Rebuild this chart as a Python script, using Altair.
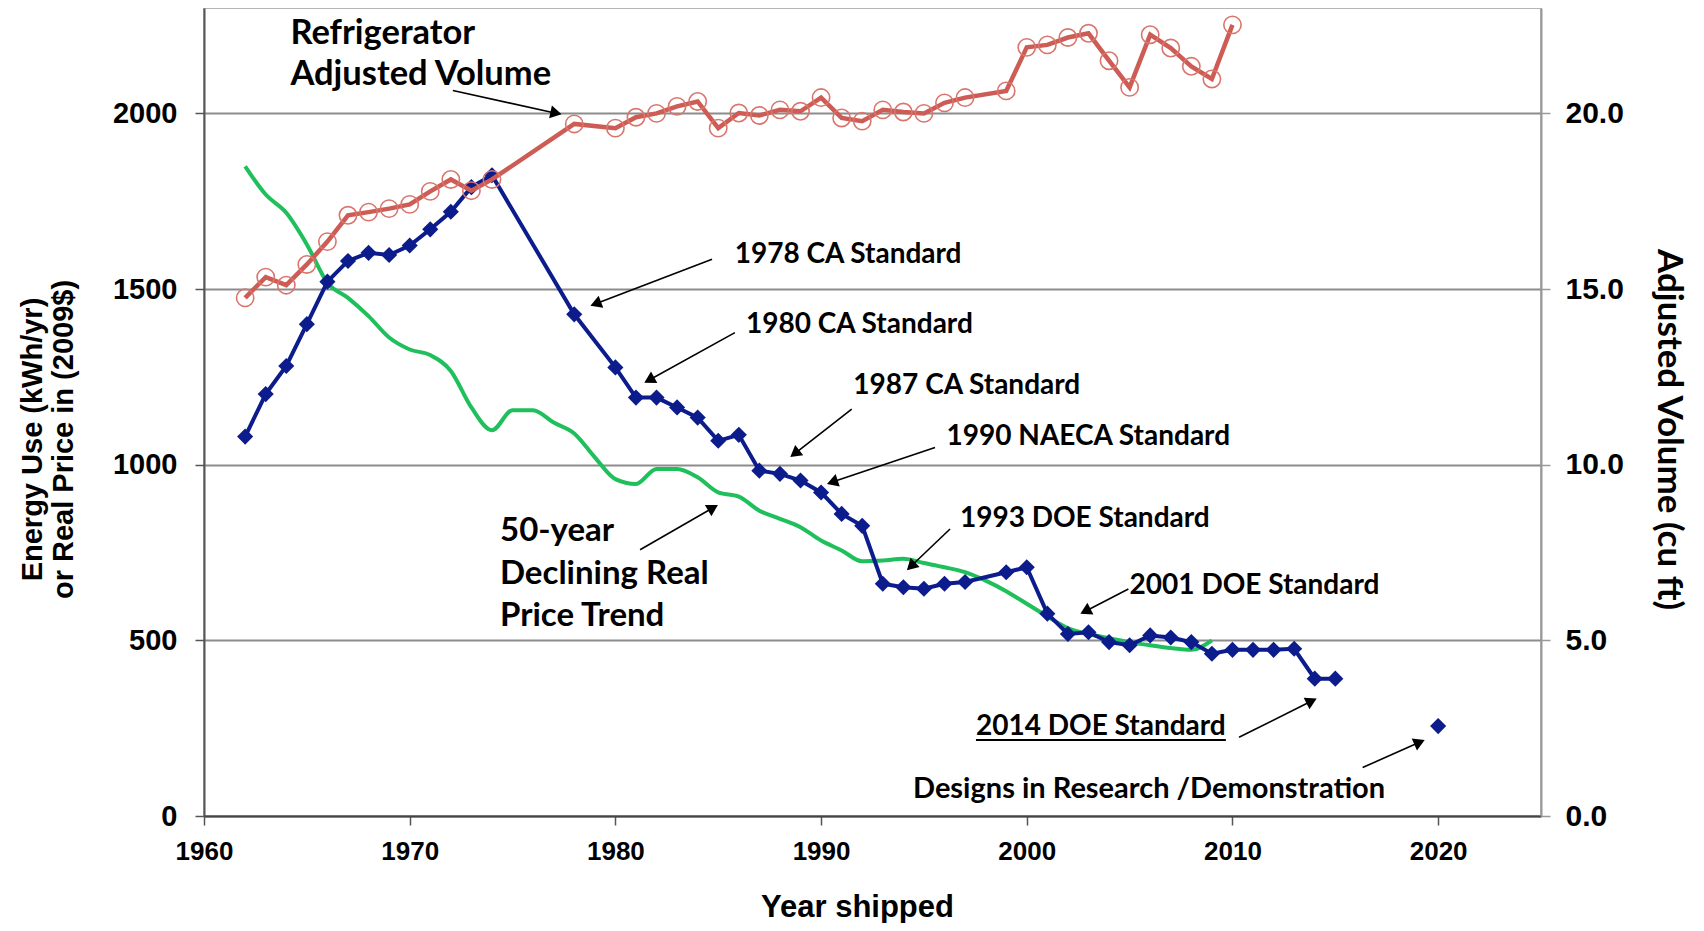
import altair as alt
import pandas as pd
import numpy as np

# ---------------- data ----------------
energy_years = [1962, 1963, 1964, 1965, 1966, 1967, 1968, 1969, 1970, 1971, 1972, 1973, 1974,
                1978, 1980, 1981, 1982, 1983, 1984, 1985, 1986, 1987, 1988, 1989, 1990, 1991,
                1992, 1993, 1994, 1995, 1996, 1997, 1999, 2000, 2001, 2002, 2003, 2004, 2005,
                2006, 2007, 2008, 2009, 2010, 2011, 2012, 2013, 2014, 2015]
energy_kwh = [1080, 1201, 1281, 1400, 1521, 1580, 1603, 1597, 1624, 1670, 1720, 1790, 1824,
              1428, 1277, 1191, 1191, 1163, 1134, 1068, 1085, 983, 974, 955, 921, 860,
              826, 661, 651, 647, 661, 666, 694, 708, 576, 518, 523, 495, 486,
              514, 508, 495, 462, 473, 473, 473, 476, 391, 391]

demo_years = [2020]
demo_kwh = [256]

price_years = list(range(1962, 2010))
price_real = [1849, 1769, 1717, 1627, 1518, 1475, 1423, 1362, 1328, 1312, 1267, 1163, 1098,
              1155, 1155, 1120, 1089, 1021, 959, 945, 988, 988, 964, 921, 909, 869, 846,
              822, 784, 756, 725, 727, 732, 720, 708, 694, 670, 640, 604, 568, 535, 518,
              506, 495, 486, 478, 473, 500]

volume_years = [1962, 1963, 1964, 1965, 1966, 1967, 1968, 1969, 1970, 1971, 1972, 1973, 1974,
                1978, 1980, 1981, 1982, 1983, 1984, 1985, 1986, 1987, 1988, 1989, 1990, 1991,
                1992, 1993, 1994, 1995, 1996, 1997, 1999, 2000, 2001, 2002, 2003, 2004, 2005,
                2006, 2007, 2008, 2009, 2010]
volume_cuft = [14.75, 15.34, 15.11, 15.70, 16.35, 17.10, 17.19, 17.29, 17.41, 17.78, 18.12, 17.80, 18.12,
               19.70, 19.58, 19.89, 20.00, 20.20, 20.34, 19.58, 20.01, 19.94, 20.10, 20.06, 20.45, 19.87,
               19.78, 20.10, 20.04, 20.00, 20.30, 20.45, 20.64, 21.88, 21.95, 22.16, 22.28, 21.50, 20.74,
               22.24, 21.86, 21.34, 20.98, 22.52]

x_ticks = [1960, 1970, 1980, 1990, 2000, 2010, 2020]
left_ticks = [0, 500, 1000, 1500, 2000]
right_ticks = [0, 5, 10, 15, 20]

note_text = ["Refrigerator", "Adjusted Volume", "1978 CA Standard", "1980 CA Standard",
             "1987 CA Standard", "1990 NAECA Standard", "1993 DOE Standard", "2001 DOE Standard",
             "2014 DOE Standard", "Designs in Research /Demonstration",
             "50-year", "Declining Real", "Price Trend"]
note_year = [1964.2, 1964.2, 1985.8, 1986.35, 1991.57, 1996.1, 1996.75, 2005.0,
             1997.53, 1994.47, 1974.39, 1974.39, 1974.39]
note_value = [2226, 2110, 1597, 1398, 1224, 1078, 846, 656, 253, 77, 810, 690, 568]
note_size = [34.5, 34.5, 28, 28, 28, 28, 28, 28, 28, 29, 33, 33, 33]

arrow_from_year = [1972.1, 1984.70, 1985.81, 1991.49, 1995.54, 1996.27, 2004.94, 1981.2, 2010.32, 2016.33]
arrow_from_value = [2065, 1585, 1376, 1158, 1049, 817, 646, 758, 224, 138]
arrow_to_year = [1977.4, 1978.77, 1981.39, 1988.49, 1990.27, 1994.16, 2002.59, 1985.0, 2014.11, 2019.36]
arrow_to_value = [1997, 1452, 1233, 1021, 945, 699, 575, 886, 335, 217]

underline_year = [1997.53]
underline_year2 = [2009.68]
underline_value = [216]

# ---------------- layout ----------------
W, H = 1337, 808
XD = [1960, 2025]
YD = [0, 2300]
VD = [0, 23]
px_per_year = W / (XD[1] - XD[0])
px_per_unit = H / (YD[1] - YD[0])

BLUE = "#0c1c8c"
GREEN = "#1fbf5c"
RED = "#cd5c55"
RED_MK = "#d9756d"
ANN_FONT = "Lato"
AX_FONT = "Liberation Sans"

energy_df = pd.DataFrame({"year": energy_years, "value": energy_kwh})
demo_df = pd.DataFrame({"year": demo_years, "value": demo_kwh})
price_df = pd.DataFrame({"year": price_years, "value": price_real})
vol_df = pd.DataFrame({"year": volume_years, "vol": volume_cuft})
note_df = pd.DataFrame({"year": note_year, "value": note_value, "label": note_text, "fs": note_size})

# arrows: shaft + head (head angle computed in pixel space)
ax1 = np.array(arrow_from_year); ay1 = np.array(arrow_from_value, dtype=float)
ax2 = np.array(arrow_to_year); ay2 = np.array(arrow_to_value, dtype=float)
dxp = (ax2 - ax1) * px_per_year
dyp = -(ay2 - ay1) * px_per_unit
L = np.hypot(dxp, dyp)
ux, uy = dxp / L, dyp / L
back = 6.0
head_year = ax2 - back * ux / px_per_year
head_value = ay2 + back * uy / px_per_unit
ang = (np.degrees(np.arctan2(ux, -uy)) + 360) % 360
arrow_df = pd.DataFrame({"year": ax1, "value": ay1, "year2": head_year, "value2": head_value})
head_df = pd.DataFrame({"year": head_year, "value": head_value, "ang": ang})
under_df = pd.DataFrame({"year": underline_year, "year2": underline_year2, "value": underline_value})

xscale = alt.Scale(domain=XD, nice=False, zero=False)
yscale = alt.Scale(domain=YD, nice=False)

x_axis = alt.Axis(values=x_ticks, format="d", grid=False, labelFlush=False,
                  labelFont=AX_FONT, labelFontSize=26, labelFontWeight="bold",
                  labelColor="black", labelPadding=13,
                  tickSize=9, tickColor="#555", tickWidth=1.5,
                  domainColor="#444", domainWidth=2,
                  titleFont=AX_FONT, titleFontSize=31, titleFontWeight="bold",
                  titleColor="black", titlePadding=28, titleX=653)
y_axis = alt.Axis(values=left_ticks, format="d", grid=True, gridColor="#8c8c8c", gridWidth=2,
                  labelFont=AX_FONT, labelFontSize=29, labelFontWeight="bold",
                  labelColor="black", labelPadding=18, labelFlush=False,
                  tickSize=9, tickColor="#555", tickWidth=1.5,
                  domainColor="#555", domainWidth=2,
                  titleFont=AX_FONT, titleFontSize=29, titleFontWeight="bold",
                  titleColor="black", titlePadding=34, titleLineHeight=31,
                  titleY=H / 2 + 27)

X_TITLE = "Year shipped"
Y_TITLE = ["Energy Use (kWh/yr)", "or Real Price in (2009$)"]


def xe():
    return alt.X("year:Q", scale=xscale, title=X_TITLE, axis=x_axis)


def ye():
    return alt.Y("value:Q", scale=yscale, title=Y_TITLE, axis=y_axis)


green = alt.Chart(price_df).mark_line(color=GREEN, strokeWidth=4, interpolate="monotone").encode(
    x=xe(), y=ye())
blue_line = alt.Chart(energy_df).mark_line(color=BLUE, strokeWidth=4).encode(x=xe(), y=ye())
blue_pts = alt.Chart(energy_df).mark_point(shape="diamond", filled=True, color=BLUE, size=260,
                                           opacity=1).encode(x=xe(), y=ye())
demo_pt = alt.Chart(demo_df).mark_point(shape="diamond", filled=True, color=BLUE, size=260,
                                        opacity=1).encode(x=xe(), y=ye())

shafts = alt.Chart(arrow_df).mark_rule(color="black", strokeWidth=1.6).encode(
    x=xe(), y=ye(), x2="year2:Q", y2="value2:Q")
heads = alt.Chart(head_df).mark_point(shape="triangle-up", filled=True, color="black", size=170,
                                      opacity=1).encode(
    x=xe(), y=ye(), angle=alt.Angle("ang:Q", scale=None))
notes = alt.Chart(note_df).mark_text(align="left", baseline="middle", font=ANN_FONT,
                                     fontWeight="bold", color="black").encode(
    x=xe(), y=ye(), text="label:N", size=alt.Size("fs:Q", scale=None))
underline = alt.Chart(under_df).mark_rule(color="black", strokeWidth=2).encode(
    x=xe(), x2="year2:Q", y=ye())

left_layer = alt.layer(green, blue_line, blue_pts, demo_pt, shafts, heads, notes, underline)

y_vol = alt.Y("vol:Q", scale=alt.Scale(domain=VD, nice=False),
              title="Adjusted Volume (cu ft)",
              axis=alt.Axis(orient="right", values=right_ticks, format=".1f", grid=False,
                            labelFont=AX_FONT, labelFontSize=30, labelFontWeight="bold",
                            labelColor="black", labelPadding=15, labelFlush=False,
                            tickSize=9, tickColor="#999", tickWidth=1.5,
                            domainColor="#999", domainWidth=2,
                            titleFont=ANN_FONT, titleFontSize=35, titleFontWeight="bold",
                            titleColor="black", titlePadding=27, titleY=H / 2 + 17))
red_line = alt.Chart(vol_df).mark_line(color=RED, strokeWidth=4.5).encode(x=xe(), y=y_vol)
red_pts = alt.Chart(vol_df).mark_point(shape="circle", filled=False, color=RED_MK, size=300,
                                       strokeWidth=1.6, opacity=1).encode(x=xe(), y=y_vol)
right_layer = alt.layer(red_line, red_pts)

chart = alt.layer(left_layer, right_layer).resolve_scale(y="independent").properties(
    width=W, height=H,
    autosize=alt.AutoSizeParams(type="none"),
    padding={"left": 196, "top": 0, "right": 152, "bottom": 107},
    background="white",
).configure_view(stroke="#b5b5b5", strokeWidth=2)

chart.save("out.html", embed_options={"renderer": "svg", "actions": False})
